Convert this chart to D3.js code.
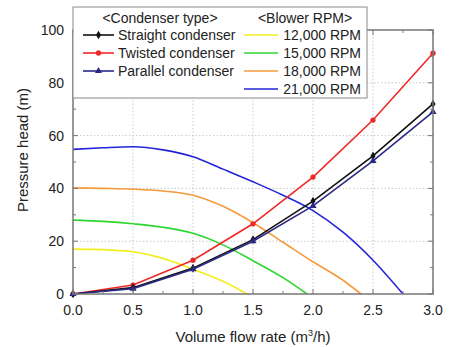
<!DOCTYPE html>
<html>
<head>
<meta charset="utf-8">
<title>Pressure head vs. volume flow rate</title>
<script src="https://cdn.jsdelivr.net/npm/d3@7"></script>
<style>
  body { margin: 0; background: #fff; }
  svg text { font-family: "Liberation Sans", Arial, sans-serif; fill: #222; }
</style>
</head>
<body>
<svg id="svg"></svg>
<script>
// condenser system curves (measured points)
var flowPts = [0, 0.5, 1.0, 1.5, 2.0, 2.5, 3.0];
var straightHead = [0, 2.4, 9.8, 20.6, 35.2, 52.3, 72];
var twistedHead  = [0, 3.4, 12.8, 26.6, 44.3, 65.9, 91.2];
var parallelHead = [0, 2.0, 9.4, 20.0, 33.4, 50.4, 69];

// blower curves
var rpm12Flow = [0, 0.25, 0.5, 0.75, 1.0, 1.25, 1.45];
var rpm12Head = [17, 16.8, 16, 13.5, 9.4, 4.8, 0];
var rpm15Flow = [0, 0.25, 0.5, 0.75, 1.0, 1.25, 1.5, 1.75, 1.95];
var rpm15Head = [28, 27.5, 26.6, 25.3, 23, 18.6, 12.6, 6.2, 0];
var rpm18Flow = [0, 0.25, 0.5, 0.75, 1.0, 1.25, 1.5, 1.75, 2.0, 2.25, 2.4];
var rpm18Head = [40.2, 40, 39.7, 39.0, 37.4, 33.2, 27, 19.6, 12.2, 5.2, 0];
var rpm21Flow = [0, 0.25, 0.5, 0.75, 1.0, 1.25, 1.5, 1.75, 2.0, 2.25, 2.5, 2.75];
var rpm21Head = [54.8, 55.4, 55.8, 54.6, 52, 47.3, 42.5, 37.4, 31.6, 23.4, 12.8, 0];

var xTicks = [0, 0.5, 1.0, 1.5, 2.0, 2.5, 3.0];
var yTicks = [0, 20, 40, 60, 80, 100];

var width = 449, height = 347,
    margin = {top: 30, left: 73, right: 16, bottom: 53};
var plotW = width - margin.left - margin.right,
    plotH = height - margin.top - margin.bottom;

var svg = d3.select("#svg").attr("width", width).attr("height", height);

var x = d3.scaleLinear().domain([0, 3]).range([0, plotW]);
var y = d3.scaleLinear().domain([0, 100]).range([plotH, 0]);

var g = svg.append("g")
    .attr("transform", "translate(" + margin.left + "," + margin.top + ")");

// grid
g.append("g").selectAll("line").data(xTicks.slice(1, -1)).enter().append("line")
    .attr("x1", function(d) { return x(d); }).attr("x2", function(d) { return x(d); })
    .attr("y1", 0).attr("y2", plotH)
    .attr("stroke", "#bbb").attr("stroke-width", 0.8).attr("stroke-dasharray", "1.5,2");
g.append("g").selectAll("line").data(yTicks.slice(1, -1)).enter().append("line")
    .attr("y1", function(d) { return y(d); }).attr("y2", function(d) { return y(d); })
    .attr("x1", 0).attr("x2", plotW)
    .attr("stroke", "#bbb").attr("stroke-width", 0.8).attr("stroke-dasharray", "1.5,2");

// series
var line = d3.line().x(function(d) { return x(d[0]); }).y(function(d) { return y(d[1]); });
var smooth = d3.line().curve(d3.curveMonotoneX)
    .x(function(d) { return x(d[0]); }).y(function(d) { return y(d[1]); });

function pairs(xs, ys) { return xs.map(function(v, i) { return [v, ys[i]]; }); }

var blowers = [
  {flow: rpm12Flow, head: rpm12Head, color: "#f2ee1e", label: "12,000 RPM"},
  {flow: rpm15Flow, head: rpm15Head, color: "#2fd62f", label: "15,000 RPM"},
  {flow: rpm18Flow, head: rpm18Head, color: "#f5993a", label: "18,000 RPM"},
  {flow: rpm21Flow, head: rpm21Head, color: "#2424d8", label: "21,000 RPM"}
];
blowers.forEach(function(b) {
  g.append("path").attr("d", smooth(pairs(b.flow, b.head)))
    .attr("fill", "none").attr("stroke", b.color).attr("stroke-width", 1.6);
});

var condensers = [
  {head: twistedHead, color: "#f02828", shape: d3.symbolCircle, label: "Twisted condenser"},
  {head: straightHead, color: "#111", shape: d3.symbolDiamond, label: "Straight condenser"},
  {head: parallelHead, color: "#2a2a86", shape: d3.symbolTriangle, label: "Parallel condenser"}
];
condensers.forEach(function(c) {
  g.append("path").attr("d", line(pairs(flowPts, c.head)))
    .attr("fill", "none").attr("stroke", c.color).attr("stroke-width", 1.6);
  g.selectAll(null).data(pairs(flowPts, c.head)).enter().append("path")
    .attr("d", d3.symbol().type(c.shape).size(22))
    .attr("transform", function(d) { return "translate(" + x(d[0]) + "," + y(d[1]) + ")"; })
    .attr("fill", c.color);
});

// axes with inward ticks, mirrored
var axisCol = "#777";
function ticksOn(sel, vals, len, orient) {
  sel.selectAll(null).data(vals).enter().append("line")
    .attr("stroke", axisCol).attr("stroke-width", 1)
    .each(function(d) {
      var l = d3.select(this);
      if (orient == "b") l.attr("x1", x(d)).attr("x2", x(d)).attr("y1", plotH).attr("y2", plotH - len);
      if (orient == "t") l.attr("x1", x(d)).attr("x2", x(d)).attr("y1", 0).attr("y2", len);
      if (orient == "l") l.attr("y1", y(d)).attr("y2", y(d)).attr("x1", 0).attr("x2", len);
      if (orient == "r") l.attr("y1", y(d)).attr("y2", y(d)).attr("x1", plotW).attr("x2", plotW - len);
    });
}
var xMinor = d3.range(0.25, 3, 0.5), yMinor = d3.range(10, 100, 20);
var tg = g.append("g");
["b", "t"].forEach(function(o) { ticksOn(tg, xTicks, 5, o); ticksOn(tg, xMinor, 3, o); });
["l", "r"].forEach(function(o) { ticksOn(tg, yTicks, 5, o); ticksOn(tg, yMinor, 3, o); });

g.append("rect").attr("width", plotW).attr("height", plotH)
  .attr("fill", "none").attr("stroke", axisCol).attr("stroke-width", 1.5);

// tick labels
g.selectAll(null).data(xTicks).enter().append("text")
  .attr("x", function(d) { return x(d); }).attr("y", plotH + 21)
  .attr("text-anchor", "middle").attr("font-size", 14)
  .text(function(d) { return d3.format(".1f")(d); });
g.selectAll(null).data(yTicks).enter().append("text")
  .attr("x", -9).attr("y", function(d) { return y(d) + 5; })
  .attr("text-anchor", "end").attr("font-size", 14)
  .text(function(d) { return d; });

// axis titles
var xt = svg.append("text").attr("x", 253).attr("y", 342)
  .attr("text-anchor", "middle").attr("font-size", 15);
xt.append("tspan").text("Volume flow rate (m");
xt.append("tspan").attr("font-size", 9).attr("dy", -6).text("3");
xt.append("tspan").attr("dy", 6).text("/h)");

svg.append("text")
  .attr("transform", "translate(28,150)rotate(-90)")
  .attr("text-anchor", "middle").attr("font-size", 15)
  .text("Pressure head (m)");

// legend
var lg = svg.append("g");
lg.append("rect").attr("x", 73).attr("y", 7).attr("width", 294).attr("height", 91)
  .attr("fill", "#fff").attr("stroke", "#888").attr("stroke-width", 1);
lg.append("text").attr("x", 160).attr("y", 23).attr("text-anchor", "middle")
  .attr("font-size", 14).text("<Condenser type>");
lg.append("text").attr("x", 305).attr("y", 23).attr("text-anchor", "middle")
  .attr("font-size", 14).text("<Blower RPM>");

var legCond = [condensers[1], condensers[0], condensers[2]];
legCond.forEach(function(c, i) {
  var yy = 35 + i * 18;
  lg.append("line").attr("x1", 83).attr("x2", 114).attr("y1", yy).attr("y2", yy)
    .attr("stroke", c.color).attr("stroke-width", 1.6);
  lg.append("path").attr("d", d3.symbol().type(c.shape).size(22))
    .attr("transform", "translate(98.5," + yy + ")").attr("fill", c.color);
  lg.append("text").attr("x", 118).attr("y", yy + 5).attr("font-size", 14).text(c.label);
});
blowers.forEach(function(b, i) {
  var yy = 35 + i * 18;
  lg.append("line").attr("x1", 244).attr("x2", 278).attr("y1", yy).attr("y2", yy)
    .attr("stroke", b.color).attr("stroke-width", 1.6);
  lg.append("text").attr("x", 361).attr("y", yy + 5).attr("text-anchor", "end")
    .attr("font-size", 14).text(b.label);
});
</script>
</body>
</html>
